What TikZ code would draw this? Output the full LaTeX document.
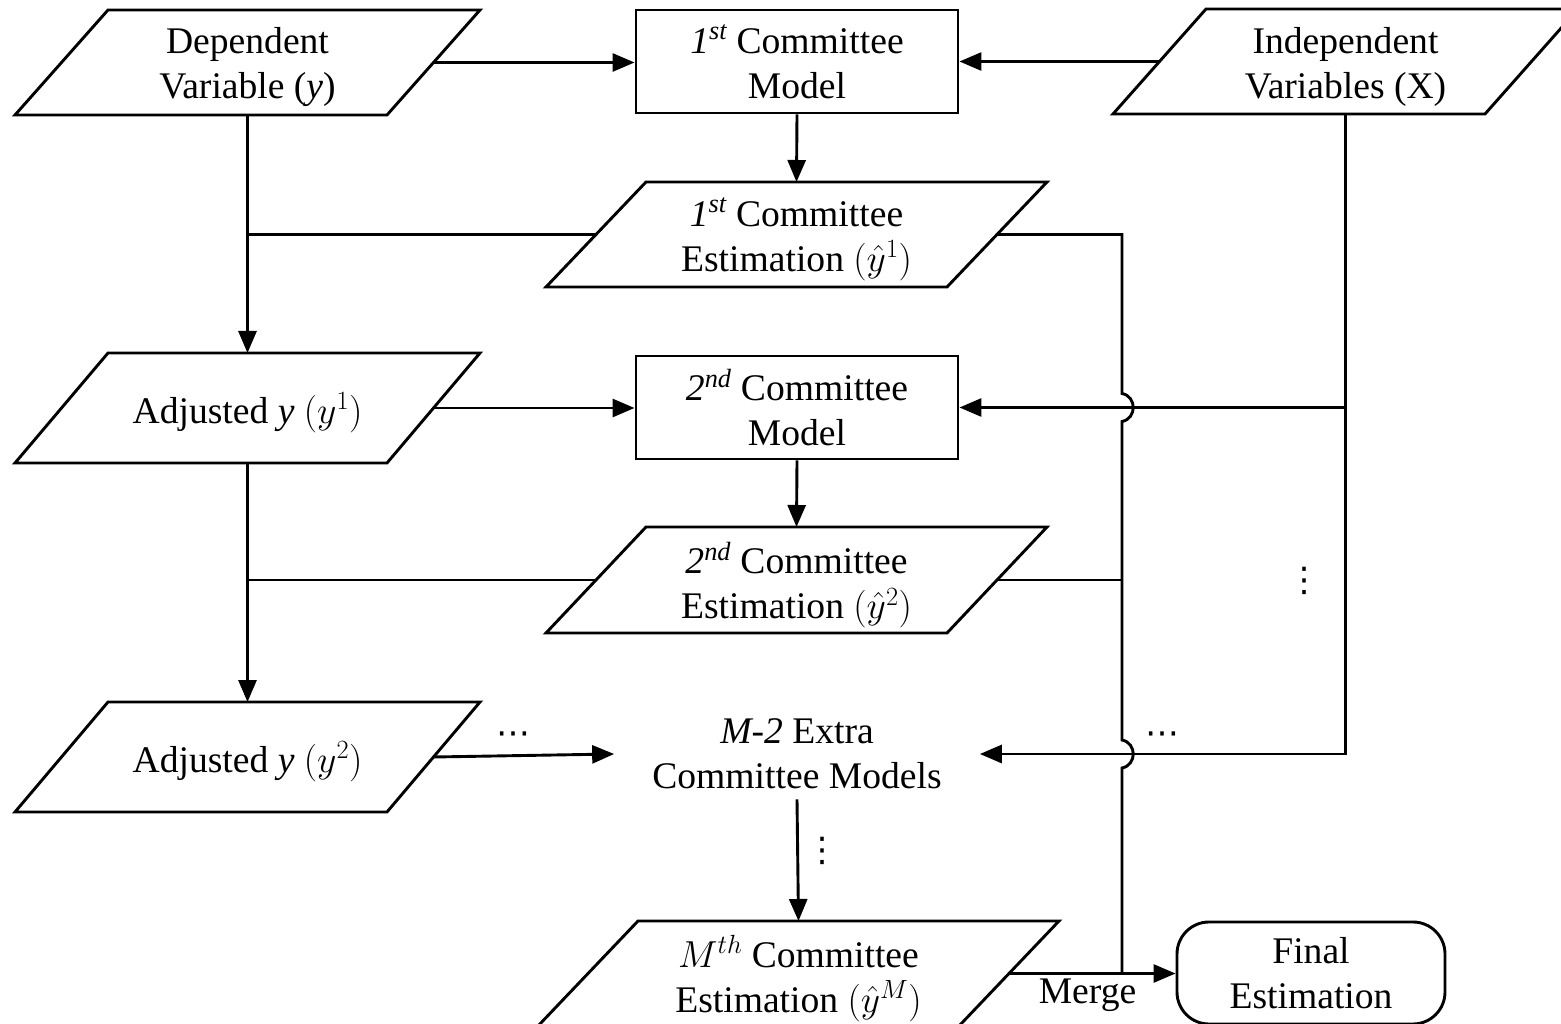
\RequirePackage{fix-cm}
\documentclass[tikz,border=0pt]{standalone}
\usepackage{fontspec}
\setmainfont{Liberation Serif}
\newfontfamily\dejavu{DejaVu Sans}
\usetikzlibrary{arrows.meta,calc}
\tikzset{
  ln/.style={line width=2.9pt},
  arr/.style={ln,-{Triangle[length=22pt,width=18pt]}},
  txt/.style={align=center,font=\fontsize{37.6pt}{45pt}\selectfont,inner sep=0pt},
  modelbox/.style={draw,ln,txt,minimum width=322pt,minimum height=103pt},
  endbox/.style={draw,ln,txt,rounded corners=32pt,minimum width=268pt,minimum height=102pt},
  dotsnode/.style={inner sep=0pt,font=\dejavu\fontsize{34pt}{34pt}\selectfont},
}
% #1 name, #2 cx, #3 cy, #4 total width, #5 height, #6 slant, #7 text
\newcommand\parashape[7]{%
  \coordinate (#1-c) at (#2,#3);
  \node[txt] (#1) at (#2,#3+5) {#7};
  \draw[ln] ($(#1-c)+(-#4/2,#5/2)$) -- ($(#1-c)+(-#4/2+#6,-#5/2)$)
     -- ($(#1-c)+(#4/2,-#5/2)$) -- ($(#1-c)+(#4/2-#6,#5/2)$) -- cycle;
  \coordinate (#1-e) at ($(#1-c)+(#4/2-#6/2,0)$);
  \coordinate (#1-w) at ($(#1-c)+(-#4/2+#6/2,0)$);
  \coordinate (#1-n) at ($(#1-c)+(0,-#5/2)$);
  \coordinate (#1-s) at ($(#1-c)+(0,#5/2)$);
}
\begin{document}
\begin{tikzpicture}[x=1pt,y=-1pt]
\useasboundingbox (0,0) rectangle (1561,1024);

% shapes
\parashape{dep}{247.5}{62.5}{465}{105}{93}{Dependent\\Variable (\textit{y})}
\parashape{ind}{1345.5}{61.5}{465}{105}{93}{Independent\\Variables (X)}
\node[modelbox] (m1) at (797,61.5) {\textit{1\textsuperscript{st}} Committee\\Model};
\parashape{eA}{796.5}{234.5}{501}{105}{100}{\textit{1\textsuperscript{st}} Committee\\Estimation $(\hat{y}^1)$}
\parashape{adjA}{247.5}{408}{465}{110}{93}{Adjusted \textit{y} $(y^1)$}
\node[modelbox] (m2) at (797,407.5) {\textit{2\textsuperscript{nd}} Committee\\Model};
\parashape{eB}{796.5}{580}{501}{106}{100}{\textit{2\textsuperscript{nd}} Committee\\Estimation $(\hat{y}^2)$}
\parashape{adjB}{247.5}{757}{465}{110}{93}{Adjusted \textit{y} $(y^2)$}
\node[txt,inner xsep=38pt,inner ysep=10pt] (mx) at (797,754) {\textit{M-2} Extra\\Committee Models};
\parashape{eM}{798.5}{973.5}{521}{105}{100}{$M^{th}$ Committee\\Estimation $(\hat{y}^M)$}
\node[endbox] (fin) at (1311,973) {Final\\Estimation};
\node[txt,anchor=base] (merge) at (1087.5,1003) {Merge};

% dots
\node[dotsnode] (dh1) at (513,738) {⋯};
\node[dotsnode] (dh2) at (1162,738) {⋯};
\node[dotsnode] (dv1) at (822,851) {⋮};
\node[dotsnode] (dv2) at (1304,581) {⋮};

% connectors
\draw[arr] (dep-e) -- (dep-e -| m1.west);
\draw[arr] (ind-w) -- (ind-w -| m1.east);
\draw[arr] (m1.south) -- (eA-n);
\draw[arr] (dep-s) -- (adjA-n);
\draw[ln] (dep-s |- eA-w) -- (eA-w);
\draw[arr] (adjA-e) -- (adjA-e -| m2.west);
\draw[arr] (m2.south) -- (eB-n);
\draw[arr] (adjA-s) -- (adjB-n);
\draw[ln] (adjA-s |- eB-w) -- (eB-w);
\draw[arr] (adjB-e) -- (mx.west);
\draw[arr] (mx.south) -- (eM-n);
\draw[arr] (eM-e) -- (eM-e -| fin.west);
\draw[arr] (ind-s) -- (ind-s |- mx.east) -- (mx.east);
\draw[arr] (ind-s |- m2.east) -- (m2.east);

\coordinate (bus) at (1122,234.5);
\draw[ln] (eA-e) -- (bus)
  -- ($(bus |- m2.east)+(0,-14)$) .. controls +(15,3) and +(15,-3) .. ($(bus |- m2.east)+(0,14)$)
  -- ($(bus |- mx.east)+(0,-14)$) .. controls +(15,3) and +(15,-3) .. ($(bus |- mx.east)+(0,14)$)
  -- (bus |- eM-e);
\draw[ln] (eB-e) -- (eB-e -| bus);
\end{tikzpicture}
\end{document}
